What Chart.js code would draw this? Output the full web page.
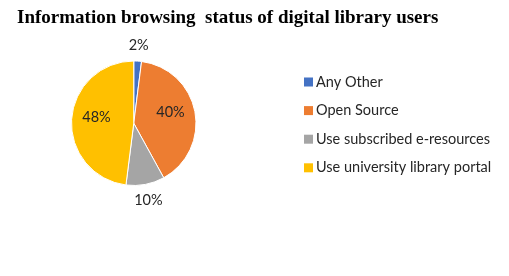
<!DOCTYPE html>
<html>
<head>
<meta charset="utf-8">
<script src="https://cdn.jsdelivr.net/npm/chart.js@4.4.0/dist/chart.umd.min.js"></script>
<style>
  html, body { margin: 0; padding: 0; background: #fff; }
  canvas { display: block; }
</style>
</head>
<body>
<canvas id="chart" width="509" height="276"></canvas>
<script>
// data
const titleText = 'Information browsing  status of digital library users';
const categories = ['Any Other', 'Open Source', 'Use subscribed e-resources', 'Use university library portal'];
const shares = [2, 40, 10, 48];
const labelInside = [false, true, false, true];
const colors = ['#4472C4', '#ED7D31', '#A5A5A5', '#FFC000'];

// title, percent labels and legend
const decorations = {
  id: 'decorations',
  afterDraw(chart) {
    const ctx = chart.ctx;
    ctx.save();
    ctx.fillStyle = '#000';
    ctx.font = 'bold 19px "Liberation Serif"';
    ctx.textAlign = 'left';
    ctx.textBaseline = 'alphabetic';
    ctx.fillText(titleText, 17, 23);

    // percent labels
    const meta = chart.getDatasetMeta(0);
    const total = shares.reduce((a, b) => a + b, 0);
    ctx.font = '14.5px Lato';
    ctx.fillStyle = '#262626';
    ctx.textAlign = 'center';
    ctx.textBaseline = 'middle';
    meta.data.forEach((arc, i) => {
      const mid = (arc.startAngle + arc.endAngle) / 2;
      const r = labelInside[i] ? arc.outerRadius * 0.6 : arc.outerRadius + 16;
      const x = arc.x + Math.cos(mid) * r;
      // excel's best fit nudges the inside labels a bit upward
      const y = arc.y + Math.sin(mid) * r - (labelInside[i] ? 4 : 0);
      ctx.fillText(Math.round(shares[i] / total * 100) + '%', x, y);
    });

    // legend
    ctx.textAlign = 'left';
    categories.forEach((c, i) => {
      const y = 82 + i * 28.6;
      ctx.fillStyle = colors[i];
      ctx.fillRect(304, y - 4.5, 9, 9);
      ctx.fillStyle = '#262626';
      ctx.fillText(c, 316, y);
    });
    ctx.restore();
  }
};

new Chart(document.getElementById('chart'), {
  type: 'pie',
  data: {
    labels: categories,
    datasets: [{
      data: shares,
      backgroundColor: colors,
      borderColor: '#fff',
      borderWidth: 1
    }]
  },
  options: {
    responsive: false,
    animation: false,
    layout: { padding: { left: 70.5, top: 60.5, right: 312, bottom: 90 } },
    plugins: {
      legend: { display: false },
      tooltip: { enabled: false },
      title: { display: false }
    }
  },
  plugins: [decorations]
});
</script>
</body>
</html>
